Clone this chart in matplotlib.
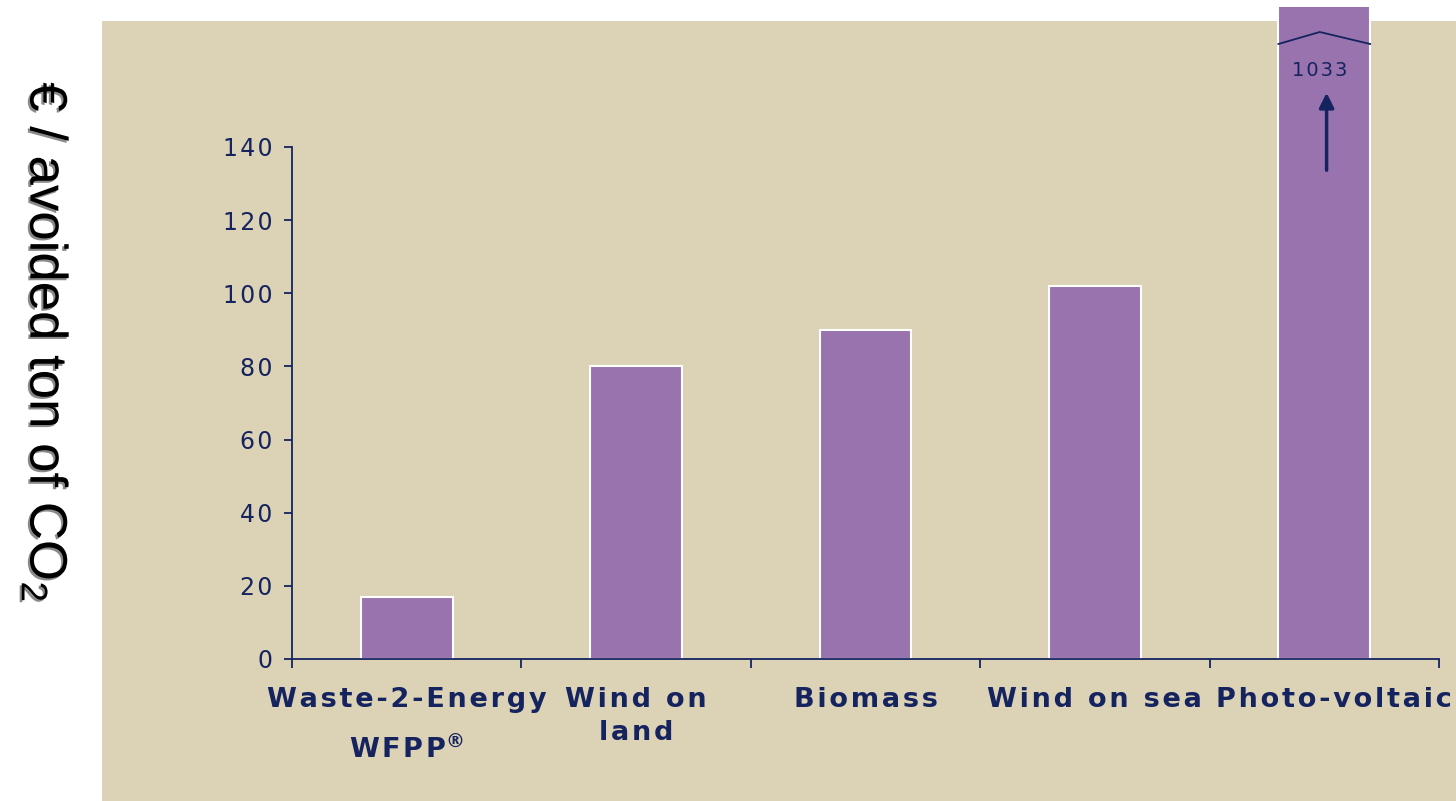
import matplotlib
matplotlib.use("Agg")
import matplotlib.pyplot as plt
import matplotlib.patheffects as pe
from matplotlib.patches import Rectangle
from matplotlib.transforms import Bbox, TransformedBbox, ScaledTranslation, blended_transform_factory

# cost per avoided ton of CO2 for each technology
categories = ["Waste-2-Energy", "Wind on\nland", "Biomass", "Wind on sea", "Photo-voltaic"]
costs = [17, 80, 90, 102, 1033]
y_ticks = [0, 20, 40, 60, 80, 100, 120, 140]

beige = "#DCD2B6"
purple = "#9873AE"
navy = "#15235F"


def track(s):
    # widen letter spacing with hair spaces, line by line
    return "\n".join("\u200a".join(line) for line in s.split("\n"))


W, H = 1456, 801
fig = plt.figure(figsize=(W / 100, H / 100), dpi=100)
fig.patch.set_facecolor("white")

# beige panel behind the chart
fig.patches.append(Rectangle((102 / W, 0), (W - 102) / W, (H - 21) / H,
                             transform=fig.transFigure, facecolor=beige,
                             edgecolor="none", zorder=-1))

ax = fig.add_axes([292 / W, (H - 659) / H, (1439 - 292) / W, (659 - 147) / H])
ax.set_facecolor("none")
ax.set_xlim(-0.5, 4.5)
ax.set_ylim(0, 140)

x = list(range(len(categories)))
bars = ax.bar(x, costs, width=0.4, color=purple, edgecolor="white", linewidth=1.5, zorder=2)

# the last bar runs off the chart: let it go just past the panel top
top_clip = TransformedBbox(Bbox([[0, 0], [1, (H - 7) / H]]), fig.transFigure)
bars[-1].set_clip_box(top_clip)

for s in ["top", "right"]:
    ax.spines[s].set_visible(False)
for s in ["left", "bottom"]:
    ax.spines[s].set_color(navy)
    ax.spines[s].set_linewidth(1.3)

ax.set_yticks(y_ticks)
ax.set_yticklabels([track(str(v)) for v in y_ticks])
ax.tick_params(axis="y", direction="out", length=6, width=1.3, color=navy,
               labelcolor=navy, labelsize=17, pad=8)

ax.set_xticks(x)
ax.set_xticklabels([track(c) for c in categories], fontsize=19.5, fontweight="bold", color=navy)
ax.tick_params(axis="x", which="major", length=0, pad=20, labelcolor=navy)
for lbl in ax.get_xticklabels():
    lbl.set_linespacing(1.35)
# last label sits a little to the right, up against the edge
last = ax.get_xticklabels()[-1]
last.set_transform(last.get_transform() + ScaledTranslation(0.1, 0, fig.dpi_scale_trans))
ax.set_xticks([i - 0.5 for i in range(len(categories) + 1)], minor=True)
ax.tick_params(axis="x", which="minor", direction="out", length=6.5, width=1.3, color=navy)

# second line under the first label
ax.text(0, -0.178, track("WFPP") + r"$^{\mathbf{®}}$", transform=ax.get_xaxis_transform(),
        ha="center", va="center", fontsize=19.5, fontweight="bold", color=navy)

# break mark, value and arrow on the photo-voltaic bar
fy = blended_transform_factory(ax.transData, fig.transFigure)
ax.plot([3.80, 3.98, 4.20], [(H - 44) / H, (H - 32) / H, (H - 44) / H],
        transform=fy, color=navy, lw=1.3, clip_on=False, zorder=3)
ax.text(3.98, (H - 71) / H, track(f"{costs[-1]}"), transform=fy, ha="center", va="center",
        fontsize=14, color=navy, clip_on=False)
ax.annotate("", xy=(4.01, (H - 90) / H), xytext=(4.01, (H - 173) / H),
            xycoords=fy, textcoords=fy,
            arrowprops=dict(arrowstyle="-|>", lw=2.5, color=navy, mutation_scale=22))

plt.rcParams["mathtext.fontset"] = "custom"
plt.rcParams["mathtext.rm"] = "Liberation Sans"
fig.text(45 / W, (H - 342) / H, "€ / avoided ton of CO$_2$", rotation=-90,
         ha="center", va="center", fontsize=38, family="Liberation Sans", color="black",
         path_effects=[pe.SimplePatchShadow(offset=(-1.5, -1.5), shadow_rgbFace="#8a8a8a", alpha=1),
                       pe.Normal()])

fig.savefig("out.png", dpi=100)
